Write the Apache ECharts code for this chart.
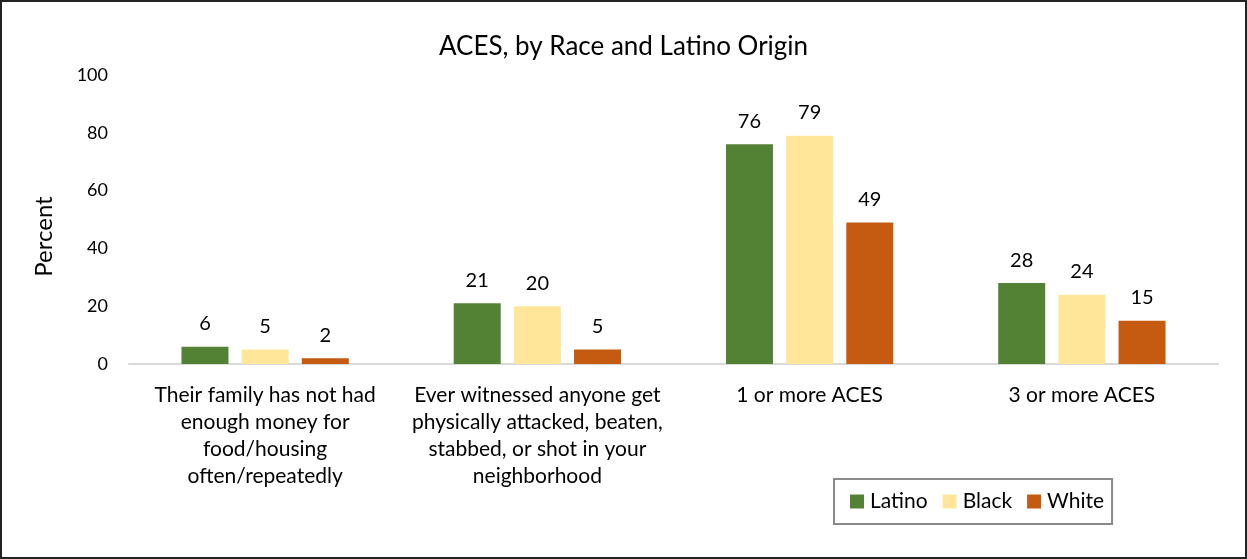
<!DOCTYPE html>
<html>
<head>
<meta charset="utf-8">
<script src="https://cdn.jsdelivr.net/npm/echarts@6/dist/echarts.min.js"></script>
<style>
  html, body { margin: 0; padding: 0; background: #fff; }
  #chart { width: 1247px; height: 559px; }
</style>
</head>
<body>
<div id="chart"></div>
<script>
const categories = [
  'Their family has not had\nenough money for\nfood/housing\noften/repeatedly',
  'Ever witnessed anyone get\nphysically attacked, beaten,\nstabbed, or shot in your\nneighborhood',
  '1 or more ACES',
  '3 or more ACES'
];
const latino = [6, 21, 76, 28];
const black = [5, 20, 79, 24];
const white = [2, 5, 49, 15];
const yTicks = [0, 20, 40, 60, 80, 100];

const FONT = 'Lato, "Open Sans", sans-serif';

const labelStyle = {
  show: true,
  position: 'top',
  distance: 13,
  fontFamily: FONT,
  fontSize: 20,
  color: '#000'
};

function bar(name, data, color) {
  return {
    name: name,
    type: 'bar',
    data: data,
    barWidth: 47,
    barGap: '28%',
    itemStyle: { color: color },
    label: labelStyle
  };
}

const chart = echarts.init(document.getElementById('chart'));
chart.setOption({
  animation: false,
  textStyle: { fontFamily: FONT },
  title: {
    text: 'ACES, by Race and Latino Origin',
    left: 'center',
    top: 29,
    textStyle: { fontFamily: FONT, fontSize: 26, fontWeight: 'normal', color: '#000' }
  },
  graphic: [{
    type: 'rect',
    shape: { x: 1, y: 1, width: 1245, height: 557 },
    style: { fill: 'none', stroke: '#222', lineWidth: 2 },
    silent: true
  }],
  legend: {
    data: ['Latino', 'Black', 'White'],
    left: 834,
    top: 479,
    padding: [12, 8, 12, 16],
    itemWidth: 14,
    itemHeight: 14,
    itemGap: 15,
    icon: 'rect',
    borderColor: '#8a8a8a',
    borderWidth: 2,
    textStyle: { fontFamily: FONT, fontSize: 21, color: '#000', padding: [0, 0, 0, 1] }
  },
  grid: { left: 129, right: 29, top: 75, bottom: 195 },
  xAxis: {
    type: 'category',
    data: categories,
    axisLine: { lineStyle: { color: '#d9d9d9', width: 2 } },
    axisTick: { show: false },
    axisLabel: {
      fontFamily: FONT,
      fontSize: 21,
      color: '#000',
      lineHeight: 27,
      margin: 18,
      interval: 0,
      align: 'center'
    }
  },
  yAxis: {
    type: 'value',
    min: 0,
    max: 100,
    interval: 20,
    name: 'Percent',
    nameLocation: 'middle',
    nameGap: 73,
    nameTextStyle: { fontFamily: FONT, fontSize: 24, color: '#000', padding: [0, 34, 0, 0] },
    splitLine: { show: false },
    axisLine: { show: false },
    axisTick: { show: false },
    axisLabel: {
      fontFamily: FONT,
      fontSize: 18,
      color: '#000',
      margin: 21,
      formatter: function (v) { return yTicks.indexOf(v) >= 0 ? String(v) : ''; }
    }
  },
  series: [
    bar('Latino', latino, '#548235'),
    bar('Black', black, '#ffe699'),
    bar('White', white, '#c55a11')
  ]
});
</script>
</body>
</html>
